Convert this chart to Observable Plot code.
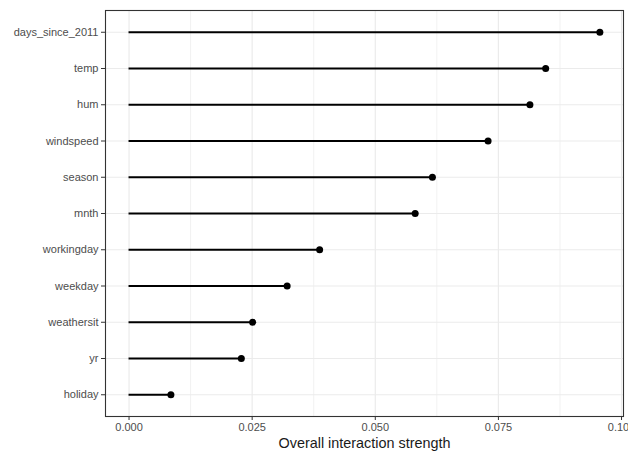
<!DOCTYPE html>
<html>
<head>
<meta charset="utf-8">
<script src="https://cdn.jsdelivr.net/npm/d3@7"></script>
<script src="https://cdn.jsdelivr.net/npm/@observablehq/plot@0.6"></script>
<style>
  html, body { margin: 0; padding: 0; background: white; }
</style>
</head>
<body>
<div id="chart"></div>
<script>
const features = ["days_since_2011", "temp", "hum", "windspeed", "season", "mnth", "workingday", "weekday", "weathersit", "yr", "holiday"];
const strength = [0.0956, 0.0846, 0.0814, 0.0729, 0.0616, 0.0581, 0.0387, 0.0321, 0.0251, 0.0228, 0.0085];
const xTicks = [0, 0.025, 0.05, 0.075, 0.1];
const xMinor = [0.0125, 0.0375, 0.0625, 0.0875];
const xLabel = "Overall interaction strength";

const data = features.map((f, i) => ({feature: f, value: strength[i]}));

const chart = Plot.plot({
  width: 628,
  height: 456,
  marginLeft: 105,
  marginRight: 5,
  marginTop: 10,
  marginBottom: 40,
  style: {fontFamily: "'Liberation Sans', Arial, sans-serif", fontSize: "11px", background: "white"},
  x: {domain: [-0.00478, 0.1004]},
  y: {type: "point", domain: features, padding: 0.6, round: false},
  marks: [
    Plot.gridX(xMinor, {stroke: "#ebebeb", strokeOpacity: 1, strokeWidth: 0.7}),
    Plot.gridX(xTicks, {stroke: "#ebebeb", strokeOpacity: 1, strokeWidth: 1.2}),
    Plot.gridY(features, {stroke: "#ebebeb", strokeOpacity: 1, strokeWidth: 1.2}),
    Plot.ruleY(data, {y: "feature", x1: 0, x2: "value", stroke: "black", strokeWidth: 1.8}),
    Plot.dot(data, {x: "value", y: "feature", r: 3.5, fill: "black"}),
    Plot.frame({stroke: "#333333", strokeWidth: 1.1}),
    Plot.axisX(xTicks, {tickSize: 4, tickPadding: 3, tickFormat: d3.format(".3f"), stroke: "#333333", fill: "#4d4d4d", label: null}),
    Plot.axisY(features, {tickSize: 4, tickPadding: 3, stroke: "#333333", fill: "#4d4d4d", label: null}),
    Plot.text([xLabel], {frameAnchor: "bottom", dy: 31, fontSize: 14.4, fill: "#1a1a1a"})
  ]
});
document.getElementById("chart").appendChild(chart);
</script>
</body>
</html>
